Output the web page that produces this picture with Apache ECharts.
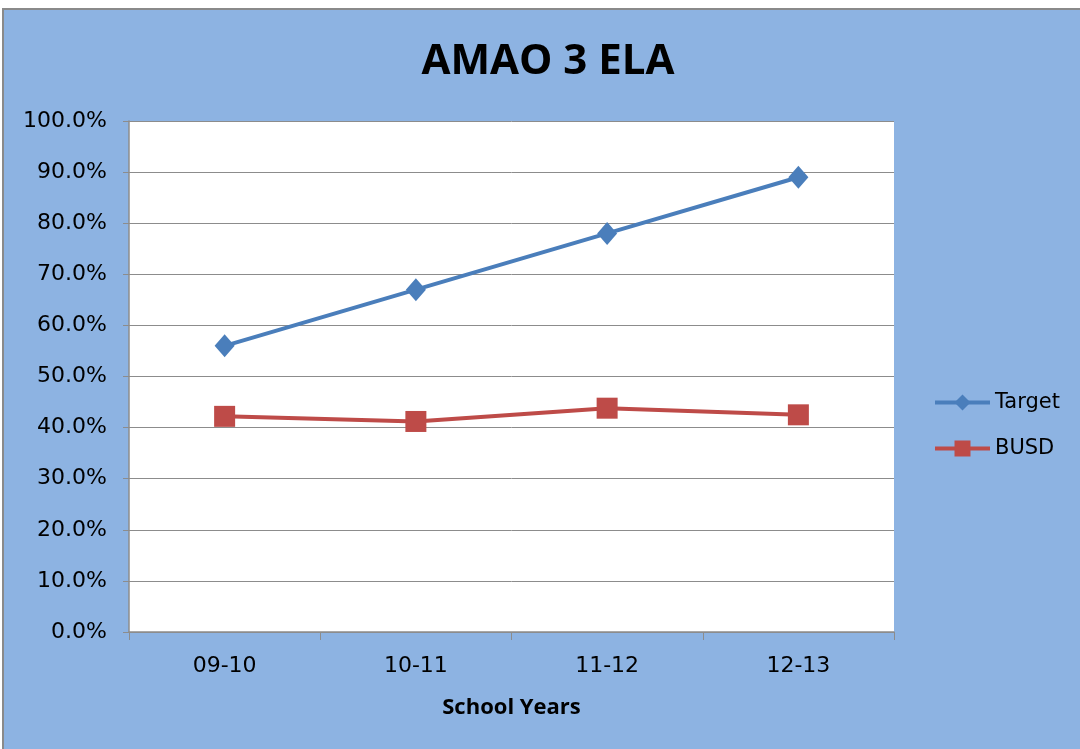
<!DOCTYPE html>
<html>
<head>
<meta charset="utf-8">
<script src="https://cdn.jsdelivr.net/npm/echarts@6/dist/echarts.min.js"></script>
<style>
  html, body { margin: 0; padding: 0; background: #ffffff; }
  #chart { width: 1080px; height: 749px; }
</style>
</head>
<body>
<div id="chart"></div>
<script>
// School years on the category axis
const schoolYears = ['09-10', '10-11', '11-12', '12-13'];
// Percent of students meeting the AMAO 3 ELA measure
const targetValues = [56.0, 67.0, 78.0, 89.0];
const busdValues = [42.2, 41.2, 43.8, 42.5];
// Value axis ticks
const yMin = 0, yMax = 100, yStep = 10;

const chart = echarts.init(document.getElementById('chart'), null, { renderer: 'canvas' });
const titleFont = '"Open Sans", "Noto Sans", sans-serif';
const labelFont = '"DejaVu Sans", sans-serif';

chart.setOption({
  backgroundColor: '#ffffff',
  animation: false,
  graphic: [
    {
      type: 'rect',
      silent: true,
      z: -10,
      shape: { x: 3, y: 9, width: 1080, height: 745 },
      style: { fill: '#8db3e2', stroke: '#8a8a8a', lineWidth: 2 }
    }
  ],
  title: {
    text: 'AMAO 3 ELA',
    left: 543,
    textAlign: 'center',
    top: 36,
    textStyle: { fontFamily: titleFont, fontWeight: 'bold', fontSize: 42, color: '#000000' }
  },
  legend: {
    orient: 'vertical',
    left: 933,
    top: 392,
    padding: 0,
    itemGap: 25,
    itemWidth: 55,
    itemHeight: 20,
    lineStyle: { width: 4 },
    textStyle: { fontFamily: labelFont, fontSize: 21, color: '#000000' },
    data: ['Target', 'BUSD']
  },
  grid: { left: 129, top: 121, right: 186, bottom: 117, backgroundColor: '#ffffff', show: true, borderWidth: 0 },
  xAxis: {
    type: 'category',
    data: schoolYears,
    boundaryGap: true,
    name: 'School Years',
    nameLocation: 'middle',
    nameGap: 65,
    nameTextStyle: { fontFamily: titleFont, fontWeight: 'bold', fontSize: 22, color: '#000000' },
    axisLine: { show: true, lineStyle: { color: '#8c8c8c', width: 1.5 } },
    axisTick: { show: true, length: 8, lineStyle: { color: '#8c8c8c' } },
    axisLabel: { margin: 23, fontFamily: labelFont, fontSize: 22, color: '#000000' },
    splitLine: { show: false }
  },
  yAxis: {
    type: 'value',
    min: yMin,
    max: yMax,
    interval: yStep,
    axisLine: { show: true, lineStyle: { color: '#8c8c8c', width: 1.5 } },
    axisTick: { show: true, length: 6, lineStyle: { color: '#8c8c8c' } },
    axisLabel: {
      margin: 22,
      fontFamily: labelFont,
      fontSize: 22,
      color: '#000000',
      formatter: v => v.toFixed(1) + '%'
    },
    splitLine: { show: true, lineStyle: { color: '#8c8c8c', width: 1 } }
  },
  series: [
    {
      name: 'Target',
      type: 'line',
      data: targetValues,
      symbol: 'diamond',
      symbolSize: [20, 23],
      itemStyle: { color: '#4a7ebb' },
      lineStyle: { color: '#4a7ebb', width: 4 }
    },
    {
      name: 'BUSD',
      type: 'line',
      data: busdValues,
      symbol: 'rect',
      symbolSize: 21,
      itemStyle: { color: '#be4b48' },
      lineStyle: { color: '#be4b48', width: 4 }
    }
  ]
});
</script>
</body>
</html>
